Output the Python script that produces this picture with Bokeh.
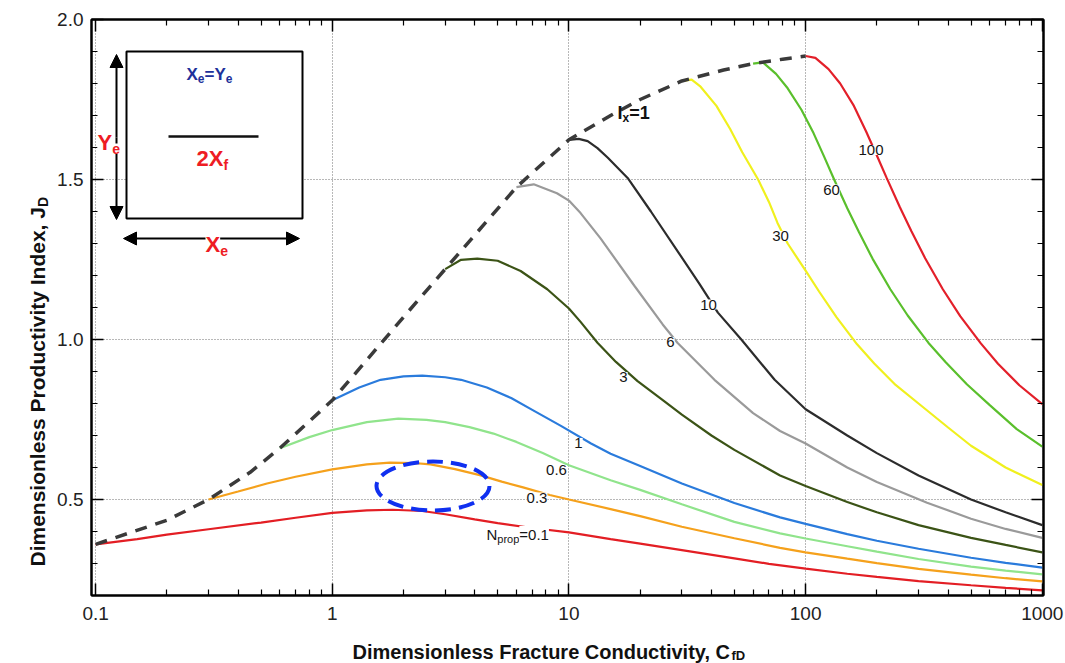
import math
from bokeh.plotting import figure
from bokeh.layouts import row, column
from bokeh.models import (LogAxis, LinearAxis, FixedTicker, CustomJSTickFormatter,
                          PrintfTickFormatter, Label, BoxAnnotation, Arrow, NormalHead, Range1d)
from bokeh.embed import file_html
from bokeh.resources import INLINE

# ---------------- data ----------------
NPROP = [0.1, 0.3, 0.6, 1, 3, 6, 10, 30, 60, 100]

CFD_N01 = [0.1, 0.15, 0.2, 0.3, 0.5, 0.7, 1.0, 1.4, 1.8, 2.4, 3.0, 4.0, 5.0, 7.0, 10, 15, 20, 30, 50, 70, 100, 150, 200, 300, 500, 700, 1000]
JD_N01 = [0.36, 0.376, 0.39, 0.407, 0.428, 0.443, 0.458, 0.466, 0.468, 0.464, 0.454, 0.438, 0.426, 0.411, 0.397, 0.376, 0.362, 0.342, 0.316, 0.299, 0.284, 0.268, 0.258, 0.245, 0.232, 0.224, 0.216]

CFD_N03 = [0.3, 0.4, 0.53, 0.7, 1.0, 1.4, 1.75, 2.2, 2.6, 3.3, 4.2, 5.2, 6.4, 8.3, 10, 15, 20, 30, 50, 78, 100, 150, 200, 300, 500, 700, 1000]
JD_N03 = [0.50, 0.525, 0.55, 0.571, 0.594, 0.61, 0.615, 0.614, 0.61, 0.595, 0.576, 0.556, 0.538, 0.514, 0.50, 0.47, 0.448, 0.415, 0.379, 0.349, 0.335, 0.315, 0.301, 0.283, 0.265, 0.254, 0.244]

CFD_N06 = [0.6, 0.8, 1.0, 1.4, 1.9, 2.5, 3.0, 3.8, 4.8, 6.0, 7.75, 10, 15, 20, 30, 50, 78, 100, 150, 200, 300, 500, 700, 1000]
JD_N06 = [0.66, 0.695, 0.717, 0.742, 0.753, 0.749, 0.742, 0.726, 0.706, 0.68, 0.645, 0.607, 0.56, 0.53, 0.485, 0.43, 0.394, 0.378, 0.354, 0.337, 0.314, 0.29, 0.278, 0.266]

CFD_N1 = [1.0, 1.3, 1.6, 2.0, 2.4, 3.0, 3.5, 4.5, 5.7, 7.0, 9.25, 12.4, 15, 20, 30, 50, 78, 100, 150, 200, 300, 500, 700, 1000]
JD_N1 = [0.81, 0.85, 0.874, 0.885, 0.887, 0.882, 0.874, 0.85, 0.817, 0.78, 0.73, 0.675, 0.643, 0.605, 0.55, 0.489, 0.444, 0.424, 0.392, 0.371, 0.346, 0.318, 0.302, 0.287]

CFD_N3 = [3.0, 3.5, 4.1, 5.0, 6.25, 8.1, 10, 11.2, 13.2, 15.8, 19.5, 25, 30, 40, 50, 78, 100, 150, 200, 300, 500, 700, 1000]
JD_N3 = [1.22, 1.249, 1.253, 1.246, 1.214, 1.157, 1.097, 1.055, 0.99, 0.93, 0.87, 0.81, 0.765, 0.70, 0.655, 0.575, 0.542, 0.492, 0.46, 0.42, 0.38, 0.358, 0.335]

CFD_N6 = [6.0, 7.1, 8.9, 10, 11.2, 13.6, 18.9, 24.9, 28.8, 41.2, 60, 78, 100, 150, 200, 326, 500, 700, 1000]
JD_N6 = [1.476, 1.485, 1.457, 1.434, 1.395, 1.316, 1.168, 1.047, 0.989, 0.874, 0.77, 0.714, 0.675, 0.60, 0.555, 0.49, 0.44, 0.408, 0.38]

CFD_N10 = [10, 11, 12, 13.2, 14.6, 17.7, 22.2, 28.9, 35.6, 42.6, 53.5, 74, 100, 150, 200, 300, 500, 700, 1000]
JD_N10 = [1.624, 1.627, 1.62, 1.598, 1.568, 1.505, 1.40, 1.274, 1.174, 1.084, 1.0, 0.874, 0.782, 0.70, 0.645, 0.575, 0.50, 0.46, 0.42]

CFD_N30 = [30, 33, 36, 42, 48, 54, 63, 70, 76, 84, 100, 114, 135, 165, 195, 240, 300, 400, 500, 700, 1000]
JD_N30 = [1.808, 1.812, 1.79, 1.73, 1.658, 1.585, 1.5, 1.43, 1.365, 1.30, 1.215, 1.15, 1.07, 0.985, 0.925, 0.858, 0.80, 0.725, 0.668, 0.60, 0.545]

CFD_N60 = [60, 66, 75, 84, 96, 108, 120, 132, 150, 168, 192, 228, 270, 330, 390, 480, 600, 780, 1000]
JD_N60 = [1.862, 1.866, 1.83, 1.785, 1.718, 1.645, 1.57, 1.5, 1.41, 1.336, 1.252, 1.157, 1.075, 0.99, 0.93, 0.86, 0.795, 0.72, 0.665]

CFD_N100 = [100, 110, 125, 140, 160, 180, 200, 220, 250, 280, 320, 380, 450, 550, 650, 800, 1000]
JD_N100 = [1.886, 1.88, 1.845, 1.80, 1.73, 1.651, 1.575, 1.505, 1.414, 1.338, 1.254, 1.157, 1.073, 0.988, 0.924, 0.857, 0.798]

# envelope, Ix = 1
CFD_ENV = [0.1, 0.2, 0.3, 0.45, 0.6, 1, 2, 3, 6, 10, 15, 20, 30, 45, 60, 80, 100]
JD_ENV = [0.36, 0.435, 0.50, 0.585, 0.66, 0.81, 1.07, 1.22, 1.476, 1.624, 1.70, 1.75, 1.808, 1.842, 1.862, 1.876, 1.886]

X_TICKS = [0.1, 1, 10, 100, 1000]
X_MINOR = [m * 10 ** e for e in range(-1, 3) for m in range(2, 10)]
Y_TICKS = [0.5, 1.0, 1.5, 2.0]
Y_MINOR = [round(0.2 + 0.1 * i, 1) for i in range(19)]

CURVE_LABELS = ["N_prop=0.1", "0.3", "0.6", "1", "3", "6", "10", "30", "60", "100"]

# ---------------- layout helpers (page pixels) ----------------
W, H = 1065, 663
LEFT_W = 50            # strip holding the y title
MAIN_H = 632           # main figure height; strip below holds the x title
F_L, F_R, F_T, F_B = 91, 1043, 19, 595
XMIN, XMAX = 0.0961, 1012.0
YMIN, YMAX = 0.2, 2.0
LX0, LX1 = math.log10(XMIN), math.log10(XMAX)


def X(px):
    return 10 ** (LX0 + (px - F_L) / (F_R - F_L) * (LX1 - LX0))


def Y(py):
    return YMIN + (F_B - py) / (F_B - F_T) * (YMAX - YMIN)


REG = dict(zip(" ,.=0123456789", [278, 278, 278, 584] + [556] * 10))
REG.update(dict(A=667, B=667, C=722, D=722, E=667, F=611, G=778, H=722, I=278, J=500, K=667, L=556, M=833,
                N=722, O=778, P=667, Q=778, R=722, S=667, T=611, U=722, V=667, W=944, X=667, Y=667, Z=611,
                a=556, b=556, c=500, d=556, e=556, f=278, g=556, h=556, i=222, j=222, k=500, l=222, m=833,
                n=556, o=556, p=556, q=556, r=333, s=500, t=278, u=556, v=500, w=722, x=500, y=500, z=500))
BLD = dict(zip(" ,.=0123456789", [278, 278, 278, 584] + [556] * 10))
BLD.update(dict(A=722, B=722, C=722, D=722, E=667, F=611, G=778, H=722, I=278, J=556, K=722, L=611, M=833,
                N=722, O=778, P=667, Q=778, R=722, S=667, T=611, U=722, V=667, W=944, X=667, Y=667, Z=611,
                a=556, b=611, c=556, d=611, e=556, f=333, g=611, h=611, i=278, j=278, k=556, l=278, m=889,
                n=611, o=611, p=611, q=611, r=389, s=556, t=333, u=611, v=556, w=778, x=556, y=556, z=500))


def tw(s, size, bold):
    t = BLD if bold else REG
    return sum(t.get(c, 556) for c in s) * size / 1000.0


FONT = "Liberation Sans"

p = figure(width=W - LEFT_W, height=MAIN_H, x_axis_type="log", title=None,
           x_range=Range1d(XMIN, XMAX), y_range=Range1d(YMIN, YMAX),
           output_backend="svg", toolbar_location=None,
           min_border_left=F_L - LEFT_W, min_border_right=W - F_R, min_border_top=F_T,
           min_border_bottom=MAIN_H - F_B)
p.background_fill_color = "white"
p.border_fill_color = "white"
p.outline_line_color = "black"
p.outline_line_width = 2


def rich(fig, fx, fy, pieces, x0, y0, angle=0.0, bg=None):
    pos = x0 if angle == 0 else y0
    for text, size, bold, color, shift in pieces:
        if angle == 0:
            lx, ly = pos, y0 + shift
        else:
            lx, ly = x0 + shift, pos
        kw = {}
        if bg:
            kw = dict(background_fill_color=bg)
        fig.add_layout(Label(x=fx(lx), y=fy(ly), text=text, text_font=FONT, text_font_size=f"{size}px",
                             text_font_style="bold" if bold else "normal", text_color=color,
                             text_align="left", text_baseline="alphabetic", angle=angle, **kw))
        w = tw(text, size, bold)
        pos = pos + w if angle == 0 else pos - w


# ---------------- axes ----------------
xt = FixedTicker(ticks=X_TICKS, minor_ticks=X_MINOR)
yt = FixedTicker(ticks=Y_TICKS, minor_ticks=Y_MINOR)


def style_axis(ax, show_labels):
    ax.axis_line_color = "black"
    ax.axis_line_width = 2
    ax.major_tick_in = 12
    ax.major_tick_out = 0
    ax.minor_tick_in = 6
    ax.minor_tick_out = 0
    ax.major_tick_line_color = "black"
    ax.major_tick_line_width = 1.5
    ax.minor_tick_line_color = "black"
    ax.minor_tick_line_width = 1.2
    ax.major_label_text_font = FONT
    ax.major_label_text_color = "#222222"
    if show_labels:
        ax.major_label_text_font_size = "19px"
    else:
        ax.major_label_text_font_size = "2px"
        ax.major_label_text_alpha = 0
        ax.major_label_standoff = 0


bx = p.xaxis[0]
bx.ticker = xt
bx.formatter = CustomJSTickFormatter(code="return String(tick)")
style_axis(bx, True)
bx.major_label_standoff = 11

ly_ax = p.yaxis[0]
ly_ax.ticker = yt
ly_ax.formatter = PrintfTickFormatter(format="%.1f")
style_axis(ly_ax, True)
ly_ax.major_label_standoff = 8

tx = LogAxis(ticker=xt)
style_axis(tx, False)
p.add_layout(tx, "above")
ry = LinearAxis(ticker=yt)
style_axis(ry, False)
p.add_layout(ry, "right")

for g in (p.xgrid[0], p.ygrid[0]):
    g.grid_line_color = "#707070"
    g.grid_line_width = 1
    g.grid_line_dash = "1 2"
p.xgrid[0].ticker = xt
p.ygrid[0].ticker = yt

# ---------------- curves ----------------
series = [
    (CFD_N01, JD_N01, "#e31e24"),
    (CFD_N03, JD_N03, "#f5a11c"),
    (CFD_N06, JD_N06, "#90e48c"),
    (CFD_N1, JD_N1, "#2a7bdc"),
    (CFD_N3, JD_N3, "#3b5316"),
    (CFD_N6, JD_N6, "#9a9a9a"),
    (CFD_N10, JD_N10, "#2c2c2c"),
    (CFD_N30, JD_N30, "#f0f01e"),
    (CFD_N60, JD_N60, "#5abf2c"),
    (CFD_N100, JD_N100, "#e3202a"),
]
for xs, ys, col in series:
    p.line(xs, ys, line_color=col, line_width=2.2)

p.line(CFD_ENV, JD_ENV, line_color="#3a3a3a", line_width=3.5, line_dash="12 9")

# ---------------- curve labels ----------------
LAB_POS = {"0.3": (536.5, 491.5), "0.6": (556, 464), "1": (578, 437), "3": (623, 371),
           "6": (670, 336), "10": (708, 298.5), "30": (780, 230), "60": (831, 183.5), "100": (870.5, 144)}
for t in CURVE_LABELS[1:]:
    cx, cy = LAB_POS[t]
    w = tw(t, 15, False)
    p.add_layout(Label(x=X(cx - w / 2), y=Y(cy + 5.5), text=t, text_font=FONT, text_font_size="15px",
                       text_color="#151515", text_align="left", text_baseline="alphabetic",
                       background_fill_color="white"))
rich(p, X, Y, [("N", 15, False, "#151515", 0), ("prop", 11, False, "#151515", 4),
               ("=0.1", 15, False, "#151515", 0)], 486, 534, bg="white")

# Ix = 1 label
rich(p, X, Y, [("I", 18, True, "#111111", 0), ("x", 12, True, "#111111", 5), ("=1", 18, True, "#111111", 0)],
     617, 112)

# highlight ellipse
p.ellipse(x=[X(432.5)], y=[Y(485.5)], width=[113], height=[49], width_units="screen", height_units="screen",
          fill_color=None, line_color="#1030f0", line_width=4, line_dash="16 8")

# ---------------- inset sketch ----------------
p.add_layout(BoxAnnotation(left=X(126), right=X(302), top=Y(51), bottom=Y(218), fill_color="white",
                           fill_alpha=1, line_color="black", line_alpha=1, line_width=2, level="annotation"))
p.segment(x0=[X(168)], y0=[Y(136)], x1=[X(258)], y1=[Y(136)], line_color="#111111", line_width=2.5,
          level="overlay")


def head():
    return NormalHead(size=13, fill_color="black", line_color="black")


p.add_layout(Arrow(x_start=X(116), y_start=Y(137), x_end=X(116), y_end=Y(54), end=head(),
                   line_color="black", line_width=2))
p.add_layout(Arrow(x_start=X(116), y_start=Y(137), x_end=X(116), y_end=Y(219), end=head(),
                   line_color="black", line_width=2))
p.add_layout(Arrow(x_start=X(211), y_start=Y(238), x_end=X(123), y_end=Y(238), end=head(),
                   line_color="black", line_width=2))
p.add_layout(Arrow(x_start=X(211), y_start=Y(238), x_end=X(299), y_end=Y(238), end=head(),
                   line_color="black", line_width=2))

RED = "#ee1c24"
BLUE = "#20309a"
rich(p, X, Y, [("Y", 22, True, RED, 0), ("e", 14, True, RED, 6)], 97, 142, bg="white")
rich(p, X, Y, [("X", 22, True, RED, 0), ("e", 14, True, RED, 6)], 205, 244, bg="white")
rich(p, X, Y, [("2X", 22, True, RED, 0), ("f", 14, True, RED, 6)], 196, 158)
rich(p, X, Y, [("X", 17, True, BLUE, 0), ("e", 12, True, BLUE, 4), ("=Y", 17, True, BLUE, 0),
               ("e", 12, True, BLUE, 4)], 186, 74)


# ---------------- axis title strips (data coords = page pixels) ----------------
def strip(width, height, xr, yr, bl, br, bt, bb):
    f = figure(width=width, height=height, x_range=xr, y_range=yr, x_axis_type=None, y_axis_type=None,
               title=None, output_backend="svg", toolbar_location=None,
               min_border_left=bl, min_border_right=br, min_border_top=bt, min_border_bottom=bb)
    f.outline_line_color = None
    f.background_fill_color = "white"
    f.border_fill_color = "white"
    f.xgrid.visible = False
    f.ygrid.visible = False
    return f


ident = lambda v: v

# bottom strip: same horizontal borders as the main figure, so its frame spans page x 91..1043
bot = strip(W - LEFT_W, H - MAIN_H, Range1d(F_L, F_R), Range1d(H, MAIN_H),
            F_L - LEFT_W, W - F_R, 0, 0)
rich(bot, ident, ident,
     [("Dimensionless Fracture Conductivity, C", 20, True, "#111111", 0), ("fD", 13, True, "#111111", 4)],
     352, 651)

# left strip: same vertical borders as the main figure, so its frame spans page y 19..595
lef = strip(LEFT_W, H, Range1d(0, LEFT_W), Range1d(F_B, F_T), 0, 0, F_T, H - F_B)
rich(lef, ident, ident,
     [("Dimensionless Productivity Index, J", 21, True, "#111111", 0), ("D", 14, True, "#111111", 5)],
     37, 566, angle=math.pi / 2)

layout = row(lef, column(p, bot, spacing=0), spacing=0)
open("out.html", "w").write(file_html(layout, INLINE))
